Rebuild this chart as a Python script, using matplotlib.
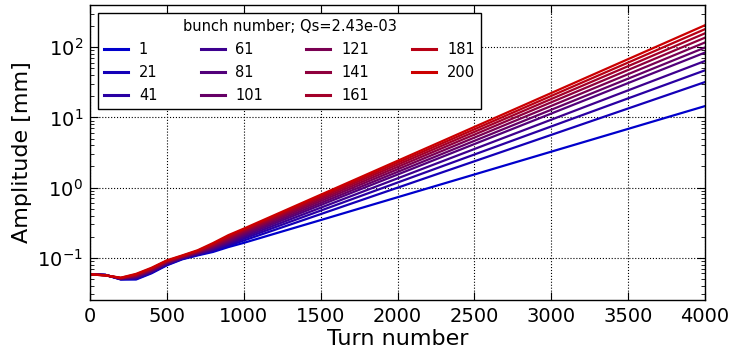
import matplotlib
matplotlib.use("Agg")
import matplotlib.pyplot as plt

plt.rcParams["axes.unicode_minus"] = False

turns = [0, 100, 200, 300, 400, 500, 600, 700, 800, 900, 1000,
         1250, 1500, 1750, 2000, 2250, 2500, 2750, 3000, 3250, 3500, 3750, 4000]

bunches = [1, 21, 41, 61, 81, 101, 121, 141, 161, 181, 200]

# amplitude [mm] per bunch
amp_1 = [0.058, 0.057, 0.049, 0.049, 0.060, 0.078, 0.095, 0.108, 0.121, 0.142, 0.163,
         0.237, 0.344, 0.501, 0.728, 1.058, 1.537, 2.235, 3.249, 4.722, 6.864, 9.98, 14.5]
amp_21 = [0.058, 0.057, 0.0493, 0.0499, 0.0611, 0.0793, 0.0962, 0.1098, 0.1246, 0.1477, 0.176,
          0.2715, 0.4185, 0.6457, 0.996, 1.536, 2.369, 3.654, 5.636, 8.694, 13.41, 20.68, 31.9]
amp_41 = [0.058, 0.057, 0.0496, 0.0509, 0.0622, 0.0806, 0.0975, 0.1116, 0.1284, 0.1536, 0.187,
          0.2962, 0.4695, 0.744, 1.179, 1.868, 2.961, 4.692, 7.436, 11.79, 18.68, 29.6, 46.9]
amp_61 = [0.058, 0.057, 0.0499, 0.0518, 0.0634, 0.0820, 0.0987, 0.1135, 0.1322, 0.1597, 0.197,
          0.3189, 0.5161, 0.8354, 1.352, 2.189, 3.543, 5.734, 9.28, 15.02, 24.31, 39.35, 63.7]
amp_81 = [0.058, 0.0565, 0.0502, 0.0528, 0.0645, 0.0833, 0.1000, 0.1154, 0.1361, 0.1661, 0.207,
          0.3415, 0.5632, 0.9291, 1.532, 2.528, 4.171, 6.88, 11.35, 18.72, 30.88, 50.93, 84.0]
amp_101 = [0.058, 0.0565, 0.0505, 0.0538, 0.0657, 0.0847, 0.1013, 0.1173, 0.1401, 0.1727, 0.217,
           0.3615, 0.6021, 1.003, 1.671, 2.783, 4.636, 7.722, 12.86, 21.42, 35.68, 59.43, 99.0]
amp_121 = [0.058, 0.0565, 0.0508, 0.0548, 0.0669, 0.0861, 0.1026, 0.1193, 0.1442, 0.1796, 0.227,
           0.382, 0.6427, 1.082, 1.82, 3.063, 5.155, 8.673, 14.59, 24.56, 41.33, 69.55, 117.0]
amp_141 = [0.058, 0.0565, 0.0511, 0.0558, 0.0682, 0.0876, 0.1039, 0.1213, 0.1484, 0.1868, 0.236,
           0.4011, 0.6816, 1.158, 1.969, 3.346, 5.686, 9.663, 16.43, 27.91, 47.45, 80.62, 137.0]
amp_161 = [0.058, 0.056, 0.0514, 0.0568, 0.0694, 0.0890, 0.1053, 0.1234, 0.1528, 0.1942, 0.245,
           0.42, 0.7202, 1.235, 2.117, 3.63, 6.223, 10.67, 18.29, 31.36, 53.77, 92.17, 158.0]
amp_181 = [0.058, 0.056, 0.0517, 0.0579, 0.0707, 0.0905, 0.1066, 0.1255, 0.1572, 0.2020, 0.253,
           0.4375, 0.7565, 1.308, 2.262, 3.913, 6.767, 11.70, 20.24, 35.0, 60.52, 104.7, 181.0]
amp_200 = [0.058, 0.056, 0.052, 0.059, 0.072, 0.092, 0.108, 0.128, 0.162, 0.210, 0.26,
           0.4535, 0.7909, 1.379, 2.406, 4.196, 7.32, 12.76, 22.26, 38.83, 67.72, 118.1, 206.0]

amplitudes = [amp_1, amp_21, amp_41, amp_61, amp_81, amp_101,
              amp_121, amp_141, amp_161, amp_181, amp_200]

fig = plt.figure(figsize=(7.39, 3.52), dpi=100)
ax = fig.add_axes([90 / 739, 52 / 352, 615 / 739, 295 / 352])

n = len(bunches)
for i, (b, amp) in enumerate(zip(bunches, amplitudes)):
    f = i / (n - 1)
    col = (0.8 * f, 0.0, 0.8 * (1 - f))
    ax.plot(turns, amp, color=col, lw=1.6, label=str(b))

ax.set_yscale("log")
ax.set_xlim(0, 4000)
ax.set_ylim(0.025, 400)
ax.set_xlabel("Turn number", fontsize=16, labelpad=2)
ax.set_ylabel("Amplitude [mm]", fontsize=16, labelpad=4)
ax.tick_params(which="both", direction="in", top=True, right=True)
ax.tick_params(which="major", length=6, labelsize=14, pad=5)
ax.tick_params(which="minor", length=3)
ax.grid(True, which="major", linestyle=":", color="black", linewidth=0.8)
for s in ax.spines.values():
    s.set_linewidth(1.0)

leg = ax.legend(loc="upper left", ncol=4, title="bunch number; Qs=2.43e-03",
                fontsize=10.5, title_fontsize=10.5, fancybox=False, framealpha=1,
                edgecolor="black", handlelength=1.65, handletextpad=0.75,
                columnspacing=2.95, labelspacing=0.55, borderaxespad=0.55,
                bbox_to_anchor=(0.0, 1.0))
leg.get_frame().set_linewidth(1.0)
for line in leg.get_lines():
    line.set_linewidth(2.2)

fig.savefig("out.png", dpi=100)
